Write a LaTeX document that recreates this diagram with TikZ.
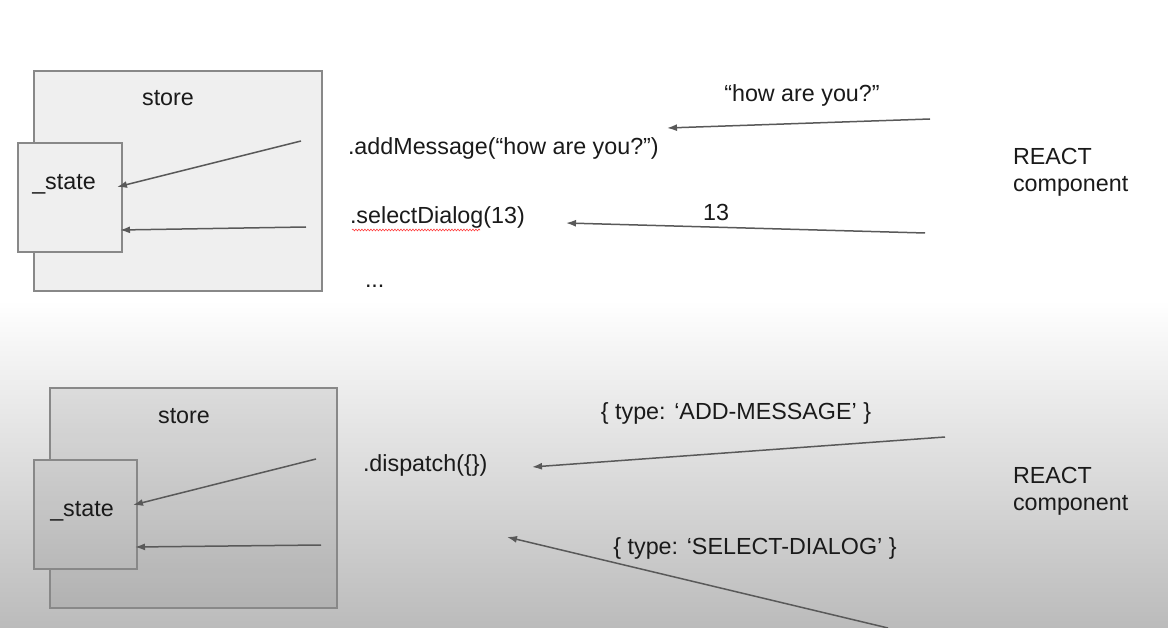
\documentclass[tikz,border=0pt]{standalone}
\usepackage{fontspec}
\setmainfont{Liberation Sans}
\usetikzlibrary{arrows.meta,decorations.pathmorphing}
\definecolor{ink}{HTML}{1A1A1A}
\definecolor{edge}{HTML}{888888}
\definecolor{arrowc}{HTML}{595959}
\definecolor{boxfill}{HTML}{EFEFEF}
\definecolor{bgbottom}{HTML}{BBBBBB}
\begin{document}
\begin{tikzpicture}[x=1pt,y=-1pt,
  every node/.style={font=\fontsize{23.3}{26}\selectfont, text=ink, inner sep=0pt, outer sep=0pt},
  flow/.style={draw=arrowc, line width=1.5pt, -{Latex[length=10pt,width=7pt]}},
  border/.style={draw=edge, line width=1.3pt},
  squiggle/.style={draw=red!75, line width=0.6pt, decorate,
    decoration={snake, amplitude=0.9pt, segment length=3pt}}]

% page and background
\useasboundingbox (0,0) rectangle (1168,628);
\fill[white] (0,0) rectangle (1168,300);
\shade[top color=white, bottom color=bgbottom] (0,300) rectangle (1168,628);

% ---------- upper panel: method calls ----------
\coordinate (s1a) at (34,71);   \coordinate (s1b) at (322,291);
\coordinate (t1a) at (18,143);  \coordinate (t1b) at (122,252);
\fill[boxfill] (s1a) rectangle (s1b);
\draw[border] (s1a) rectangle (s1b);
\fill[boxfill] (t1a) rectangle (t1b);
\draw[border] (t1a) rectangle (t1b);

\node[anchor=base] (store1) at (168,106) {store};
\node[anchor=base] (state1) at (64,190) {\_state};

\node[anchor=base west] (addmsg) at (348,155) {.addMessage(“how are you?”)};
\node[anchor=base west] (seldlg) at (350,224) {.selectDialog(13)};
\draw[squiggle] (352,230) -- (480,230);
\node[anchor=base west] (dots) at (365,288) {...};

\node[anchor=base] (howlbl) at (802,102) {“how are you?”};
\node[anchor=base] (numlbl) at (716,221) {13};

\node[anchor=base west] (react1a) at (1013,165) {REACT};
\node[anchor=base west] (react1b) at (1013,192) {component};

\coordinate (a1s) at (930,119);  \coordinate (a1e) at (667,128);
\coordinate (a2s) at (925,233);  \coordinate (a2e) at (566,223);
\coordinate (i1s) at (301,141);  \coordinate (i1e) at (117,187);
\coordinate (i2s) at (306,227);  \coordinate (i2e) at (120,230);
\draw[flow] (a1s) -- (a1e);
\draw[flow] (a2s) -- (a2e);
\draw[flow] (i1s) -- (i1e);
\draw[flow] (i2s) -- (i2e);

% ---------- lower panel: dispatch ----------
\coordinate (s2a) at (50,388);  \coordinate (s2b) at (337,608);
\coordinate (t2a) at (34,460);  \coordinate (t2b) at (137,569);
% one fill for the union of both boxes
\fill[black, fill opacity=0.07] (s2a) rectangle (s2b) (t2a) rectangle (t2b);
\draw[border] (50,460) -- (s2a) -- (337,388) -- (s2b) -- (50,608) -- (50,569);
\draw[border] (t2a) rectangle (t2b);

\node[anchor=base] (store2) at (184,423) {store};
\node[anchor=base] (state2) at (82,516) {\_state};

\node[anchor=base west] (dispatch) at (363,471) {.dispatch(\{\})};
\node[anchor=base] (addlbl) at (736,419) {\{ type: ‘ADD-MESSAGE’ \}};
\node[anchor=base] (sellbl) at (755,554) {\{ type: ‘SELECT-DIALOG’ \}};

\node[anchor=base west] (react2a) at (1013,483) {REACT};
\node[anchor=base west] (react2b) at (1013,510) {component};

\coordinate (b1s) at (945,437);  \coordinate (b1e) at (532,467);
\coordinate (b2s) at (888,628);  \coordinate (b2e) at (507,537);
\coordinate (j1s) at (316,459);  \coordinate (j1e) at (133,505);
\coordinate (j2s) at (321,545);  \coordinate (j2e) at (135,547);
\draw[flow] (b1s) -- (b1e);
\draw[flow] (b2s) -- (b2e);
\draw[flow] (j1s) -- (j1e);
\draw[flow] (j2s) -- (j2e);
\end{tikzpicture}
\end{document}
